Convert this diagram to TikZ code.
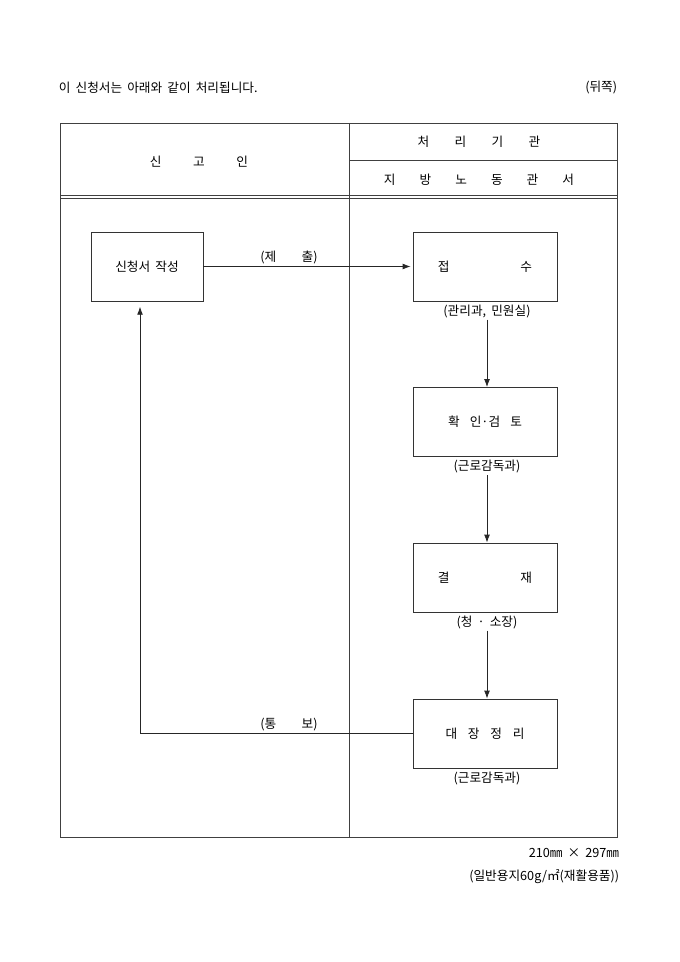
\documentclass[tikz,border=0pt]{standalone}
\usepackage{fontspec}
\setmainfont[WordSpace=1.8]{Noto Sans CJK KR}
\usetikzlibrary{arrows.meta}
\begin{document}
\begin{tikzpicture}[x=0.75pt,y=-0.75pt,font=\fontsize{9.5}{11}\selectfont,line width=0.6pt,
 box/.style={draw=black!80,minimum width=108pt,minimum height=51.75pt,inner sep=0pt},
 sub/.style={inner sep=1pt},
 arr/.style={-{Latex[length=6pt,width=4.4pt]},black!85}]
\useasboundingbox (0,0) rectangle (680,962);
\node[anchor=west] (title) at (54,88) {이 신청서는 아래와 같이 처리됩니다.};
\node[anchor=east] (side) at (622,88) {(뒤쪽)};
\draw[black!75] (60,123) rectangle (617,837) (349,123)--(349,837) (349,160)--(617,160)
 (60,195.5)--(617,195.5) (60,198.5)--(617,198.5);
\node (rep) at (199,162) {신\hspace{2.5em}고\hspace{2.5em}인};
\node (org) at (479,142) {처\hspace{2em}리\hspace{2em}기\hspace{2em}관};
\node (off) at (479,180) {지\hspace{1.9em}방\hspace{1.9em}노\hspace{1.9em}동\hspace{1.9em}관\hspace{1.9em}서};
\node[box,minimum width=84pt] (app) at (147,266.5) {신청서 작성};
\foreach \n/\y/\t/\s in {d1/266.5/{접\hspace{5.6em}수}/{(관리과, 민원실)},
 d2/422/{확\hspace{0.8em}인·검\hspace{0.8em}토}/{(근로감독과)},
 d3/577.5/{결\hspace{5.6em}재}/{(청 · 소장)},
 d4/733.5/{대\hspace{0.85em}장\hspace{0.85em}정\hspace{0.85em}리}/{(근로감독과)}}{
 \node[box] (\n) at (485,\y) {\t};
 \node[sub] (\n s) at (487,\y+45) {\s};}
\foreach \a/\b in {d1/d2,d2/d3,d3/d4}{\draw[arr] (\a s.south)--(\a s.south |- \b.north);}
\node (give) at (289,257) {(제\hspace{2em}출)};
\draw[arr,shorten >=1.5pt] (app.east)--(d1.west);
\node (back) at (289,725) {(통\hspace{2em}보)};
\draw[arr,shorten >=4pt] (d4.west) -| ([xshift=-5.25pt]app.south);
\node[anchor=east] (size) at (624,853) {210㎜ × 297㎜};
\node[anchor=east] (paper) at (624,877) {(일반용지60g/㎡(재활용품))};
\end{tikzpicture}
\end{document}
